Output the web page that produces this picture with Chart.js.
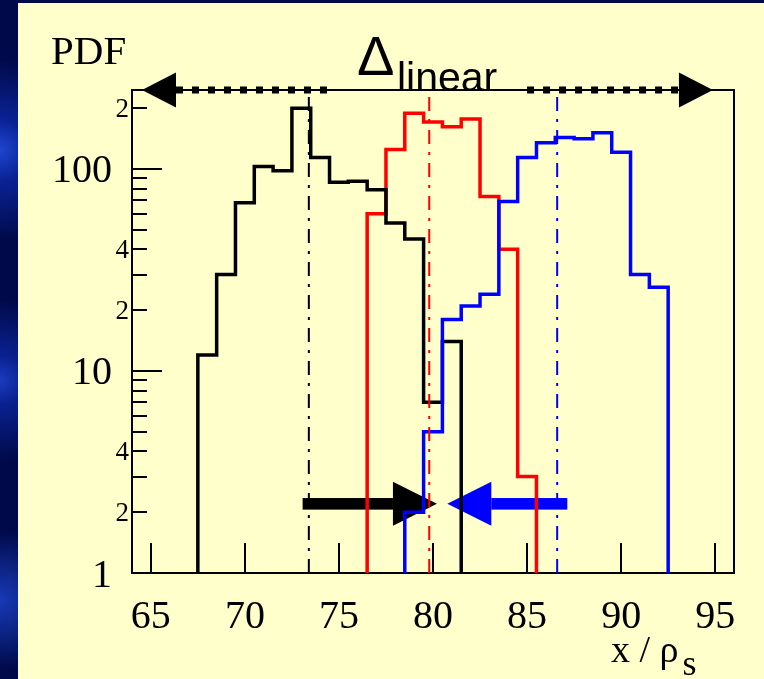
<!DOCTYPE html>
<html>
<head>
<meta charset="utf-8">
<script src="https://cdn.jsdelivr.net/npm/chart.js@4.4.1/dist/chart.umd.min.js"></script>
<style>
    body {
        margin: 0;
        width: 764px;
        height: 679px;
        overflow: hidden;
        background:
            radial-gradient(circle at 0px 150px, #1f45d0 0, #0a2296 30px, rgba(0,10,70,0) 90px),
            radial-gradient(circle at 0px 380px, #1a3cc0 0, #0a2090 25px, rgba(0,10,70,0) 80px),
            radial-gradient(circle at 0px 600px, #183ab8 0, rgba(0,10,70,0) 70px),
            #000a4a;
    }
    #panel {
        position: absolute;
        left: 18px;
        top: 3px;
        width: 746px;
        height: 676px;
        background: #ffffcc;
    }
    canvas {
        position: absolute;
        left: 0;
        top: 0;
    }
</style>
</head>
<body>
<div id="panel"></div>
<canvas id="pdfChart" width="764" height="679"></canvas>
<script>
    // histogram bins (bin centres, width 1) and PDF counts
    const blackBins = [68, 69, 70, 71, 72, 73, 74, 75, 76, 77, 78, 79, 80, 81];
    const blackPdf = [12, 30, 68, 103, 98, 200, 114, 86, 87, 79, 54, 45, 7, 14];

    const redBins = [77, 78, 79, 80, 81, 82, 83, 84, 85];
    const redPdf = [60, 125, 189, 171, 162, 177, 73, 40, 3];

    const blueBins = [79, 80, 81, 82, 83, 84, 85, 86, 87, 88, 89, 90, 91, 92];
    const bluePdf = [2, 5, 18, 21, 24, 69, 114, 135, 143, 141, 151, 121, 30, 26];

    // mean positions (dash-dot lines)
    const meanX = [73.4, 79.8, 86.6];
    const meanColors = ['#000000', '#ff0000', '#0000ff'];

    // axes
    const xMin = 64, xMax = 96;
    const yMin = 1, yMax = 246;
    const xTicks = [65, 70, 75, 80, 85, 90, 95];
    const yMajorTicks = [1, 10, 100];
    const yMinorTicks = [2, 3, 4, 5, 6, 7, 8, 9, 20, 30, 40, 50, 60, 70, 80, 90, 200];
    const yMinorLabelled = [2, 4, 20, 40, 200];
    const yMinorLabels = ['2', '4', '2', '4', '2'];

    // arrows: Delta_linear span on top, and the two shift arrows
    const deltaArrow = [64.53, 94.88];
    const deltaDotGap = [74.5, 85.0];
    const blackShift = [73.07, 80.21];
    const blueShift = [87.14, 80.76];
    const shiftLevel = 2.2;

    function histPoints(bins, values) {
        const pts = [{ x: bins[0] - 0.5, y: yMin }];
        bins.forEach((b, i) => {
            pts.push({ x: b - 0.5, y: values[i] });
            pts.push({ x: b + 0.5, y: values[i] });
        });
        pts.push({ x: bins[bins.length - 1] + 0.5, y: yMin });
        return pts;
    }

    function histSet(label, bins, values, color, order) {
        return {
            label: label,
            data: histPoints(bins, values),
            borderColor: color,
            borderWidth: 3.5,
            borderJoinStyle: 'miter',
            showLine: true,
            pointRadius: 0,
            tension: 0,
            order: order
        };
    }

    const datasets = [
        histSet('blue', blueBins, bluePdf, '#0000ff', 1),
        histSet('black', blackBins, blackPdf, '#000000', 2),
        histSet('red', redBins, redPdf, '#ff0000', 3)
    ];
    meanX.forEach((m, i) => {
        datasets.push({
            label: 'mean ' + i,
            data: [{ x: m, y: yMin }, { x: m, y: yMax }],
            borderColor: meanColors[i],
            borderWidth: 2,
            borderDash: [14, 8, 3, 8],
            showLine: true,
            pointRadius: 0,
            order: 0
        });
    });

    function arrowHead(ctx, tipX, y, dir, len, half) {
        ctx.beginPath();
        ctx.moveTo(tipX, y);
        ctx.lineTo(tipX - dir * len, y - half);
        ctx.lineTo(tipX - dir * len, y + half);
        ctx.closePath();
        ctx.fill();
    }

    const decor = {
        id: 'decor',
        beforeDatasetsDraw(chart) {
            const ctx = chart.ctx;
            const a = chart.chartArea;
            const xs = chart.scales.x, ys = chart.scales.y;
            ctx.save();

            // shift arrows (below the histograms)
            const yA = ys.getPixelForValue(shiftLevel);
            [[blackShift, '#000000'], [blueShift, '#0000ff']].forEach(([s, col]) => {
                const x0 = xs.getPixelForValue(s[0]);
                const x1 = xs.getPixelForValue(s[1]);
                const dir = x1 > x0 ? 1 : -1;
                ctx.fillStyle = col;
                ctx.fillRect(Math.min(x0, x1 - dir * 44), yA - 5.8, Math.abs(x1 - dir * 44 - x0), 11.6);
                arrowHead(ctx, x1, yA, dir, 44, 22);
            });

            // frame
            ctx.strokeStyle = '#000';
            ctx.lineWidth = 2;
            ctx.strokeRect(a.left, a.top, a.right - a.left, a.bottom - a.top);

            // y ticks
            ctx.beginPath();
            yMinorTicks.forEach(v => {
                const y = Math.round(ys.getPixelForValue(v));
                ctx.moveTo(a.left, y);
                ctx.lineTo(a.left + 15, y);
            });
            yMajorTicks.forEach(v => {
                const y = Math.round(ys.getPixelForValue(v));
                ctx.moveTo(a.left, y);
                ctx.lineTo(a.left + 30, y);
            });
            xTicks.forEach(v => {
                const x = Math.round(xs.getPixelForValue(v));
                ctx.moveTo(x, a.bottom);
                ctx.lineTo(x, a.bottom - 30);
            });
            ctx.stroke();

            // tick labels
            ctx.fillStyle = '#000';
            ctx.textBaseline = 'alphabetic';
            ctx.textAlign = 'right';
            ctx.font = '40px "Liberation Serif"';
            yMajorTicks.forEach(v => {
                ctx.fillText(String(v), a.left - 20, ys.getPixelForValue(v) + 13.5);
            });
            ctx.font = '27px "Liberation Serif"';
            yMinorLabelled.forEach((v, i) => {
                ctx.fillText(yMinorLabels[i], a.left - 3, ys.getPixelForValue(v) + 9);
            });
            ctx.textAlign = 'center';
            ctx.font = '40px "Liberation Serif"';
            xTicks.forEach(v => {
                ctx.fillText(String(v), xs.getPixelForValue(v), 628);
            });
            ctx.restore();
        },
        afterDatasetsDraw(chart) {
            const ctx = chart.ctx;
            const a = chart.chartArea;
            const xs = chart.scales.x;
            ctx.save();
            ctx.fillStyle = '#000';
            ctx.strokeStyle = '#000';

            // Delta_linear arrow along the top of the frame
            const y = a.top;
            const xl = xs.getPixelForValue(deltaArrow[0]);
            const xr = xs.getPixelForValue(deltaArrow[1]);
            const g0 = xs.getPixelForValue(deltaDotGap[0]);
            const g1 = xs.getPixelForValue(deltaDotGap[1]);
            ctx.lineWidth = 7;
            ctx.setLineDash([7, 9]);
            ctx.beginPath();
            ctx.moveTo(xl + 34, y);
            ctx.lineTo(g0, y);
            ctx.stroke();
            ctx.beginPath();
            ctx.moveTo(g1, y);
            ctx.lineTo(xr - 34, y);
            ctx.stroke();
            ctx.setLineDash([]);
            ctx.lineWidth = 2;
            ctx.beginPath();
            ctx.moveTo(xl, y);
            ctx.lineTo(xr, y);
            ctx.stroke();
            arrowHead(ctx, xl, y, -1, 34, 17.5);
            arrowHead(ctx, xr, y, 1, 34, 17.5);

            ctx.textAlign = 'left';
            ctx.textBaseline = 'alphabetic';
            ctx.font = '56px "Liberation Sans"';
            ctx.fillText('\u0394', 357, 75);
            ctx.font = '41px "Liberation Sans"';
            ctx.fillText('linear', 397, 91);

            // axis titles
            ctx.font = '41px "Liberation Serif"';
            ctx.fillText('PDF', 51, 63.5);
            ctx.font = '38px "Liberation Serif"';
            const t = 'x / \u03c1';
            ctx.fillText(t, 611, 661.5);
            const w = ctx.measureText(t).width;
            ctx.font = '36px "Liberation Serif"';
            ctx.fillText('s', 611 + w + 4, 675);
            ctx.restore();
        }
    };

    const config = {
        type: 'scatter',
        data: { datasets: datasets },
        options: {
            responsive: false,
            animation: false,
            layout: {
                padding: { left: 132, top: 90, right: 30, bottom: 106 }
            },
            plugins: {
                legend: { display: false },
                tooltip: { enabled: false }
            },
            scales: {
                x: { type: 'linear', min: xMin, max: xMax, display: false },
                y: { type: 'logarithmic', min: yMin, max: yMax, display: false }
            }
        },
        plugins: [decor]
    };

    const pdfChart = new Chart(document.getElementById('pdfChart'), config);
</script>
</body>
</html>
